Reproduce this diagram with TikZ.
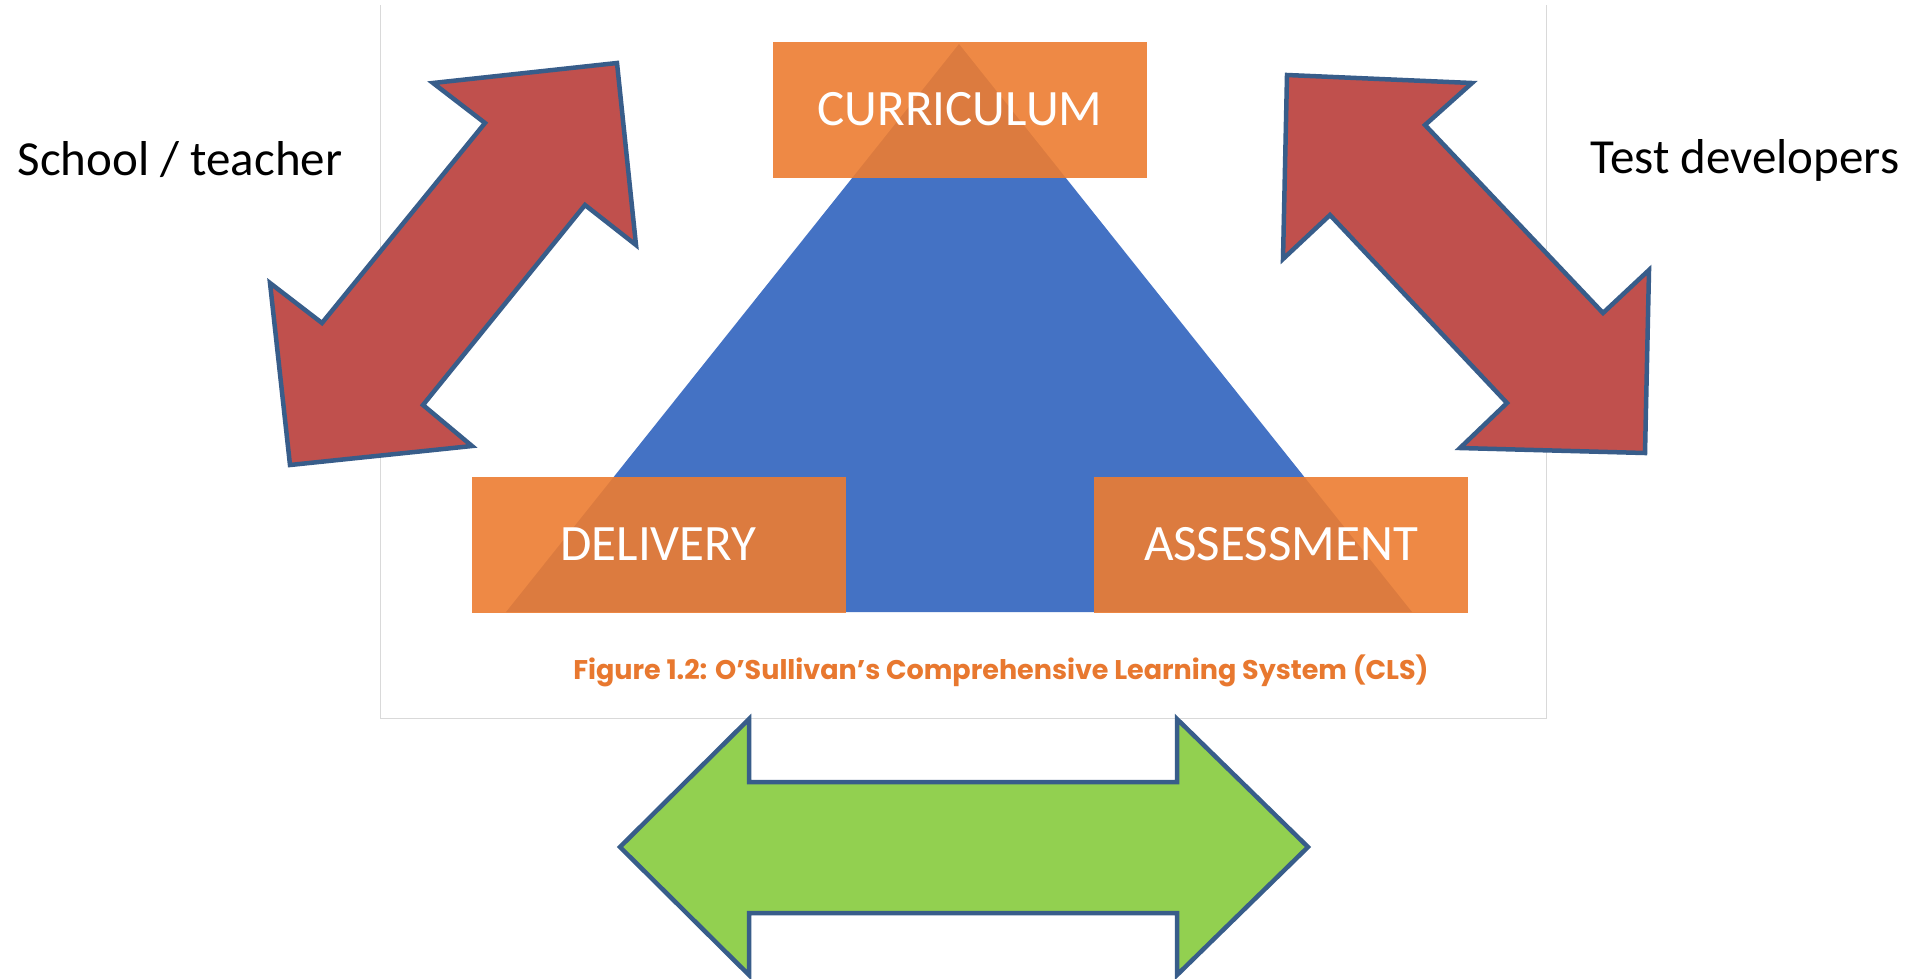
\documentclass[tikz,border=0pt]{standalone}
\usepackage{fontspec}
\setmainfont{Carlito}
\newfontfamily\capfont{Poppins}
\definecolor{tri}{HTML}{4472C4}
\definecolor{boxcol}{HTML}{ED7D31}
\definecolor{redarrow}{HTML}{C0504D}
\definecolor{greenarrow}{HTML}{92D050}
\definecolor{outl}{HTML}{385D8A}
\definecolor{framecol}{HTML}{D9D9D9}
\definecolor{captxt}{HTML}{E8782F}
\begin{document}
\begin{tikzpicture}[x=1pt,y=-1pt,
  boxnode/.style={fill=boxcol,fill opacity=0.9,text opacity=1,text=white,minimum width=374pt,minimum height=136pt,inner sep=0pt,font=\fontsize{51}{60}\selectfont},
  sidelabel/.style={text=black,inner sep=0pt,font=\fontsize{49}{58}\selectfont},
  arrowshape/.style={draw=outl,line width=4.5pt,line join=miter}]
\useasboundingbox (0,0) rectangle (1913,978);
\fill[white] (0,0) rectangle (1913,978);
\draw[framecol,line width=1pt] (380,5) -- (380,718) -- (1546,718) -- (1546,5);
\fill[tri] (959,44) -- (1412,612) -- (506,612) -- cycle;
\node[boxnode] (curr) at (960,109.5) {CURRICULUM};
\node[boxnode] (deliv) at (658.5,544.5) {DELIVERY};
\node[boxnode] (assess) at (1281,544.5) {ASSESSMENT};
\node[text=captxt,inner sep=0pt,font=\capfont\bfseries\fontsize{27}{32}\selectfont] (cap) at (1001,671) {Figure 1.2: O’Sullivan’s Comprehensive Learning System (CLS)};
\node[sidelabel] (school) at (180,160) {School / teacher};
\node[sidelabel] (test) at (1745,160) {Test developers};
% left red double arrow
\filldraw[arrowshape,fill=redarrow] (617,63) -- (433,83) -- (485,123) -- (322,323) -- (270,283) -- (290,465) -- (472,446) -- (423,405) -- (585,205) -- (636,245) -- cycle;
% right red double arrow
\filldraw[arrowshape,fill=redarrow] (1287,75) -- (1472,83) -- (1425,125) -- (1603,313) -- (1649,270) -- (1645,453) -- (1460,448) -- (1507,403) -- (1330,215) -- (1283,259) -- cycle;
% green double arrow
\filldraw[arrowshape,fill=greenarrow] (620,847) -- (749,719) -- (749,782) -- (1177,782) -- (1177,719) -- (1308,847) -- (1177,975) -- (1177,913) -- (749,913) -- (749,975) -- cycle;
\end{tikzpicture}
\end{document}
